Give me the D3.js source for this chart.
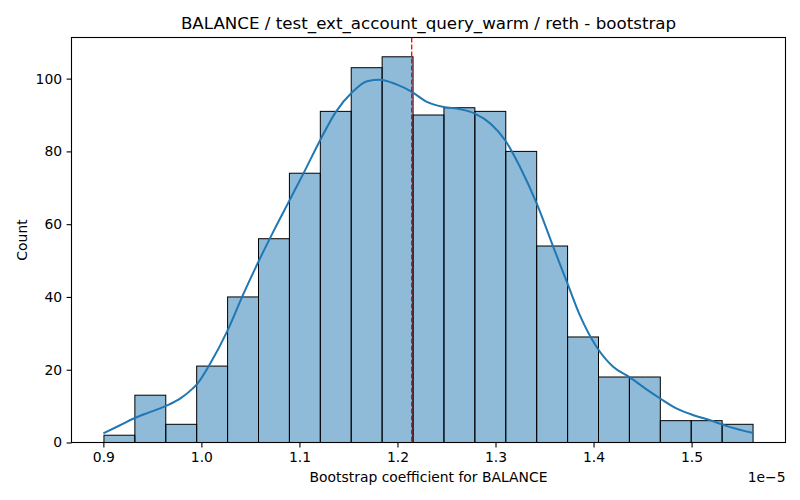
<!DOCTYPE html>
<html>
<head>
<meta charset="utf-8">
<script src="https://cdn.jsdelivr.net/npm/d3@7"></script>
<style>
  body { margin: 0; background: #fff; }
  text { font-family: "DejaVu Sans", sans-serif; fill: #000; }
</style>
</head>
<body>
<div id="chart"></div>
<script>
// histogram bins (x in units of 1e-5)
var binLo = 0.9006;
var binHi = 1.5627;
var counts = [2, 13, 5, 21, 40, 56, 74, 91, 103, 106, 90, 92, 91, 80, 54, 29, 18, 18, 6, 6, 5];

// kde curve (x, count scale)
var kdeX = [0.900, 0.916, 0.931, 0.948, 0.965, 0.979, 0.991, 0.996, 1.009, 1.026, 1.043, 1.058,
    1.074, 1.090, 1.104, 1.121, 1.137, 1.154, 1.169, 1.182, 1.199, 1.215, 1.230, 1.247, 1.264,
    1.279, 1.295, 1.310, 1.325, 1.342, 1.359, 1.373, 1.386, 1.403, 1.420, 1.437, 1.454, 1.468,
    1.485, 1.502, 1.519, 1.536, 1.563];
var kdeY = [2.5, 4.6, 6.6, 8.4, 10.2, 12.2, 14.8, 16.2, 21.7, 30.4, 40.9, 49.6,
    58.3, 66.6, 73.9, 83.0, 90.8, 96.3, 99.3, 99.7, 98.4, 96.3, 93.6, 92.2, 91.6,
    90.4, 87.6, 83.0, 75.7, 65.7, 53.7, 44.0, 35.0, 26.3, 20.8, 17.9, 14.6, 12.1,
    9.3, 7.5, 6.1, 4.5, 2.6];

var refLine = 1.2145;
var xTicks = [0.9, 1.0, 1.1, 1.2, 1.3, 1.4, 1.5];
var yTicks = [0, 20, 40, 60, 80, 100];

function init() {
    histogram();
}

function histogram() {
    var w = 800, h = 500;
    var m = { left: 71.5, right: 14.5, top: 37.5, bottom: 57.5 };
    var iw = w - m.left - m.right;
    var ih = h - m.top - m.bottom;

    var n = counts.length;
    var bw = (binHi - binLo) / n;
    var bins = counts.map(function (c, i) {
        return { x0: binLo + i * bw, x1: binLo + (i + 1) * bw, count: c };
    });

    var pad = (binHi - binLo) * 0.05;
    var x = d3.scaleLinear().domain([binLo - pad, binHi + pad]).range([0, iw]);
    var y = d3.scaleLinear().domain([0, d3.max(counts) * 1.05]).range([ih, 0]);

    var svg = d3.select("#chart")
        .append("svg")
        .attr("width", w)
        .attr("height", h);

    var g = svg.append("g").attr("transform", "translate(" + m.left + "," + m.top + ")");

    g.selectAll("rect.bar")
        .data(bins)
        .enter()
        .append("rect")
        .attr("class", "bar")
        .attr("x", function (d) { return x(d.x0); })
        .attr("width", function (d) { return x(d.x1) - x(d.x0); })
        .attr("y", function (d) { return y(d.count); })
        .attr("height", function (d) { return ih - y(d.count); })
        .attr("fill", "#1f77b4")
        .attr("fill-opacity", 0.5)
        .attr("stroke", "#000")
        .attr("stroke-width", 1);

    var kde = kdeX.map(function (v, i) { return [v, kdeY[i]]; });
    var line = d3.line()
        .x(function (d) { return x(d[0]); })
        .y(function (d) { return y(d[1]); })
        .curve(d3.curveMonotoneX);

    g.append("path")
        .datum(kde)
        .attr("d", line)
        .attr("fill", "none")
        .attr("stroke", "#1f77b4")
        .attr("stroke-width", 2);

    g.append("line")
        .attr("x1", x(refLine)).attr("x2", x(refLine))
        .attr("y1", 0).attr("y2", ih)
        .attr("stroke", "red")
        .attr("stroke-width", 1.3)
        .attr("stroke-dasharray", "5,2");

    var xAxis = d3.axisBottom(x).tickValues(xTicks).tickSize(4.9).tickPadding(4.5)
        .tickFormat(d3.format(".1f"));
    var yAxis = d3.axisLeft(y).tickValues(yTicks).tickSize(4.9).tickPadding(4.5);

    var gx = g.append("g").attr("transform", "translate(0," + ih + ")").call(xAxis);
    var gy = g.append("g").call(yAxis);
    [gx, gy].forEach(function (a) {
        a.select(".domain").remove();
        a.selectAll("line").attr("stroke", "#000").attr("stroke-width", 1.1);
        a.selectAll("text").attr("font-size", "13.9px").attr("font-family", "DejaVu Sans");
    });

    // frame
    g.append("rect")
        .attr("width", iw).attr("height", ih)
        .attr("fill", "none")
        .attr("stroke", "#000")
        .attr("stroke-width", 1.1);

    svg.append("text")
        .attr("x", m.left + iw / 2).attr("y", 29)
        .attr("text-anchor", "middle")
        .attr("font-size", "16.7px")
        .text("BALANCE / test_ext_account_query_warm / reth - bootstrap");

    svg.append("text")
        .attr("x", m.left + iw / 2).attr("y", 482)
        .attr("text-anchor", "middle")
        .attr("font-size", "13.9px")
        .text("Bootstrap coefficient for BALANCE");

    svg.append("text")
        .attr("transform", "translate(27," + (m.top + ih / 2) + ") rotate(-90)")
        .attr("text-anchor", "middle")
        .attr("font-size", "13.9px")
        .text("Count");

    svg.append("text")
        .attr("x", m.left + iw).attr("y", 482)
        .attr("text-anchor", "end")
        .attr("font-size", "13.9px")
        .text("1e\u22125");
}

window.onload = init;
</script>
</body>
</html>
